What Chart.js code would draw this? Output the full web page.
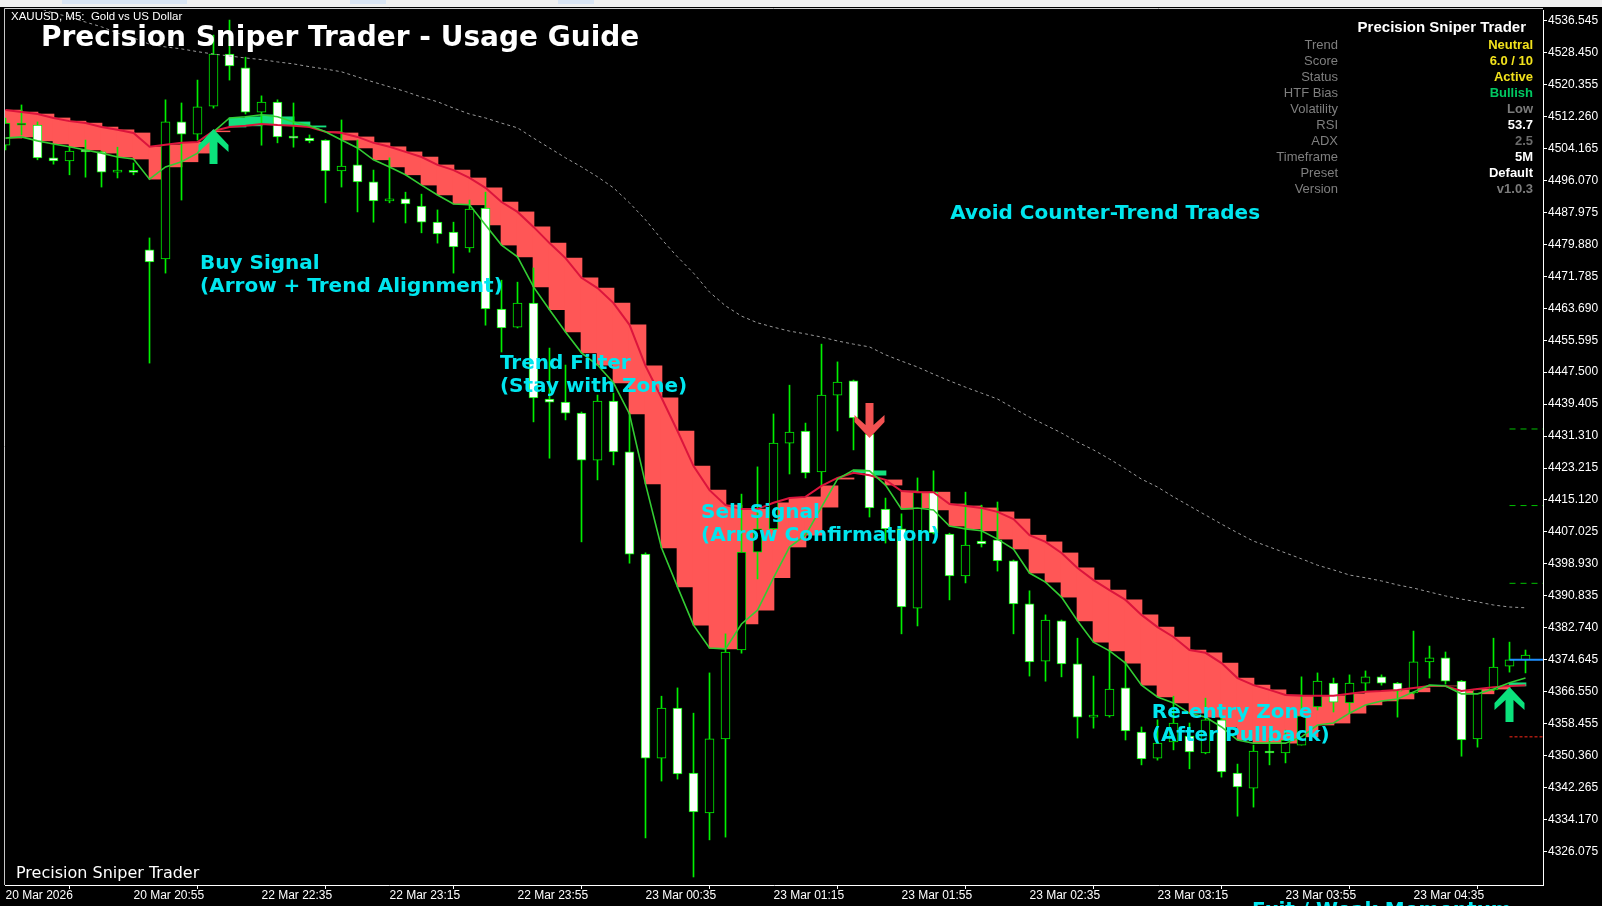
<!DOCTYPE html>
<html>
<head>
<meta charset="utf-8">
<script src="https://cdn.jsdelivr.net/npm/chart.js@4.4.1/dist/chart.umd.min.js"></script>
<style>
html, body { margin: 0; padding: 0; background: #000; }
#wrap { position: relative; width: 1602px; height: 906px; }
</style>
</head>
<body>
<div id="wrap"><canvas id="chart"></canvas></div>
<script>
// XAUUSD M5 candles
const opens = [4505.0, 4510.1, 4510.1, 4501.8, 4501.0, 4503.5, 4503.3, 4498.2, 4498.3, 4478.5,
  4476.2, 4510.9, 4507.8, 4514.9, 4528.1, 4524.6, 4513.4, 4515.9, 4507.1, 4506.8,
  4506.3, 4498.5, 4500.0, 4495.7, 4490.9, 4491.4, 4489.6, 4485.5, 4483.0, 4479.0,
  4489.1, 4463.5, 4458.9, 4465.0, 4440.7, 4439.9, 4437.1, 4425.2, 4440.2, 4427.3,
  4401.4, 4349.7, 4362.4, 4345.9, 4335.8, 4354.6, 4377.1, 4401.9, 4407.8, 4429.5,
  4432.6, 4422.2, 4441.7, 4445.3, 4431.8, 4412.8, 4407.8, 4387.7, 4417.1, 4406.5,
  4395.9, 4404.7, 4405.0, 4399.7, 4388.8, 4374.3, 4384.5, 4373.6, 4360.1, 4360.4,
  4367.5, 4356.3, 4349.7, 4353.8, 4355.3, 4351.0, 4359.4, 4345.9, 4342.1, 4351.5,
  4351.0, 4353.0, 4362.7, 4368.7, 4363.7, 4368.7, 4370.3, 4368.7, 4366.2, 4374.1,
  4375.1, 4369.2, 4354.6, 4367.0, 4373.0, 4374.6];
const highs = [4511.9, 4515.2, 4510.9, 4505.0, 4504.5, 4506.3, 4503.5, 4504.5, 4500.5, 4481.5,
  4516.5, 4515.7, 4521.5, 4532.9, 4536.7, 4527.3, 4517.5, 4516.5, 4515.7, 4507.6,
  4506.4, 4511.4, 4506.3, 4498.7, 4501.8, 4493.1, 4492.6, 4488.6, 4485.5, 4491.1,
  4493.1, 4470.8, 4470.3, 4473.9, 4453.6, 4449.3, 4437.4, 4441.7, 4442.2, 4437.1,
  4401.7, 4365.4, 4367.5, 4361.1, 4371.3, 4381.2, 4416.6, 4423.5, 4436.9, 4444.2,
  4434.6, 4454.6, 4450.1, 4445.5, 4434.1, 4415.6, 4411.6, 4420.7, 4422.5, 4406.7,
  4417.1, 4413.8, 4414.6, 4399.9, 4392.1, 4386.0, 4384.7, 4380.1, 4370.5, 4377.1,
  4374.1, 4357.6, 4359.4, 4365.4, 4358.6, 4364.9, 4359.9, 4348.2, 4353.0, 4354.8,
  4356.8, 4370.3, 4371.3, 4370.0, 4370.8, 4371.8, 4370.8, 4368.9, 4381.9, 4378.1,
  4376.6, 4369.4, 4367.4, 4380.1, 4379.1, 4377.1];
const lows = [4503.8, 4507.6, 4501.3, 4500.2, 4497.5, 4496.9, 4494.4, 4496.7, 4497.5, 4449.8,
  4472.6, 4491.1, 4506.3, 4514.4, 4521.5, 4512.9, 4505.0, 4505.6, 4504.5, 4505.6,
  4490.4, 4494.4, 4488.1, 4485.5, 4490.4, 4485.3, 4482.8, 4480.2, 4472.6, 4477.9,
  4459.4, 4452.6, 4458.7, 4434.9, 4425.7, 4435.4, 4404.5, 4420.2, 4424.0, 4399.1,
  4329.5, 4343.9, 4344.4, 4319.6, 4329.0, 4329.7, 4376.3, 4395.1, 4407.5, 4421.7,
  4420.7, 4418.9, 4432.6, 4427.8, 4410.8, 4404.2, 4381.2, 4383.2, 4406.5, 4389.8,
  4394.1, 4403.2, 4397.1, 4381.2, 4370.5, 4369.2, 4370.3, 4354.8, 4357.3, 4360.1,
  4354.3, 4348.0, 4349.2, 4351.8, 4347.0, 4350.8, 4344.9, 4335.0, 4337.3, 4348.0,
  4348.5, 4353.0, 4361.9, 4361.4, 4361.1, 4366.5, 4368.2, 4360.1, 4366.0, 4370.0,
  4368.5, 4350.2, 4352.5, 4366.8, 4371.5, 4371.3];
const closes = [4510.6, 4510.4, 4501.8, 4501.0, 4503.5, 4503.3, 4498.2, 4498.3, 4498.1, 4475.4,
  4510.9, 4507.8, 4514.7, 4528.1, 4525.1, 4513.4, 4515.9, 4507.1, 4506.8, 4506.1,
  4498.5, 4499.7, 4495.7, 4490.9, 4491.4, 4490.1, 4485.5, 4482.5, 4479.2, 4488.8,
  4463.5, 4458.7, 4465.0, 4441.0, 4439.9, 4437.1, 4425.2, 4440.2, 4427.3, 4401.4,
  4349.7, 4362.4, 4345.7, 4336.1, 4354.6, 4376.6, 4401.9, 4407.8, 4429.5, 4432.3,
  4422.0, 4441.7, 4445.0, 4435.9, 4413.1, 4407.8, 4388.0, 4417.1, 4406.8, 4395.9,
  4403.7, 4404.0, 4399.7, 4388.8, 4374.1, 4384.7, 4373.6, 4360.1, 4360.4, 4367.2,
  4356.6, 4349.5, 4353.5, 4358.6, 4351.3, 4359.4, 4346.2, 4342.4, 4351.5, 4351.0,
  4354.3, 4360.4, 4369.2, 4363.9, 4368.7, 4370.3, 4368.7, 4366.7, 4374.1, 4375.1,
  4369.2, 4354.3, 4367.2, 4372.8, 4374.6, 4375.8];

// indicator lines
const zoneLine = [4513.9, 4513.4, 4512.9, 4511.9, 4511.1, 4510.6, 4509.6, 4508.9, 4508.1, 4504.6,
  4505.1, 4505.6, 4505.8, 4508.6, 4509.6, 4509.9, 4510.4, 4510.1, 4509.9, 4509.6,
  4508.4, 4508.1, 4507.1, 4505.6, 4504.6, 4503.3, 4502.0, 4500.0, 4498.7, 4496.7,
  4494.2, 4490.6, 4488.1, 4484.3, 4480.2, 4476.4, 4471.4, 4468.8, 4465.0, 4459.5,
  4449.1, 4441.0, 4432.6, 4423.7, 4417.6, 4413.8, 4412.8, 4412.8, 4414.4, 4415.6,
  4415.9, 4418.7, 4420.7, 4422.0, 4421.4, 4420.2, 4417.4, 4417.1, 4417.1, 4414.1,
  4413.6, 4413.1, 4412.1, 4410.3, 4406.2, 4404.5, 4401.7, 4397.9, 4394.8, 4392.3,
  4389.8, 4386.0, 4382.9, 4380.4, 4377.1, 4376.4, 4373.8, 4370.0, 4368.2, 4367.0,
  4365.7, 4365.5, 4365.5, 4365.5, 4366.0, 4366.5, 4366.7, 4367.0, 4367.5, 4368.0,
  4368.0, 4366.7, 4367.2, 4367.7, 4368.0, 4368.2];
const fastLine = [4506.8, 4507.1, 4506.1, 4505.3, 4504.6, 4503.8, 4503.0, 4502.0, 4501.5, 4496.4,
  4499.5, 4500.8, 4503.0, 4508.4, 4511.9, 4512.2, 4512.7, 4512.2, 4510.9, 4509.9,
  4508.4, 4506.3, 4504.3, 4501.3, 4499.5, 4497.5, 4494.9, 4492.4, 4490.1, 4489.9,
  4484.8, 4479.7, 4476.7, 4469.1, 4463.3, 4457.7, 4452.4, 4449.3, 4444.8, 4436.9,
  4419.2, 4403.0, 4393.1, 4383.4, 4377.6, 4377.4, 4383.7, 4387.2, 4395.4, 4403.2,
  4406.2, 4413.3, 4420.4, 4422.7, 4422.5, 4418.9, 4412.8, 4413.1, 4412.6, 4408.5,
  4407.8, 4407.3, 4405.2, 4402.7, 4396.6, 4394.3, 4390.5, 4384.5, 4379.1, 4376.9,
  4373.8, 4368.2, 4365.2, 4363.7, 4361.1, 4360.1, 4357.6, 4354.3, 4353.5, 4353.5,
  4353.5, 4355.1, 4358.1, 4358.6, 4361.1, 4363.2, 4364.2, 4364.7, 4366.5, 4368.2,
  4368.0, 4366.0, 4366.0, 4367.2, 4368.8, 4370.0];
const slowLine = [null, null, 4539.8, 4538.5, 4537.5, 4536.2, 4535.0, 4533.4, 4532.2, 4530.6,
  4529.9, 4529.4, 4528.7, 4528.1, 4527.6, 4527.1, 4526.7, 4526.1, 4525.6, 4524.9,
  4524.3, 4523.6, 4522.3, 4521.0, 4519.8, 4518.6, 4517.2, 4516.0, 4514.4, 4512.9,
  4511.9, 4510.6, 4509.4, 4506.8, 4504.3, 4501.8, 4499.5, 4497.0, 4494.2, 4490.4,
  4486.1, 4481.2, 4476.7, 4472.6, 4467.8, 4464.3, 4461.7, 4460.0, 4458.9, 4457.9,
  4457.2, 4456.4, 4455.4, 4454.6, 4453.9, 4451.9, 4450.3, 4448.8, 4447.0, 4445.3,
  4443.7, 4442.2, 4440.7, 4438.4, 4436.1, 4434.1, 4432.1, 4429.8, 4427.8, 4425.5,
  4423.0, 4420.4, 4418.4, 4415.9, 4413.6, 4411.3, 4409.0, 4406.8, 4404.7, 4403.2,
  4401.7, 4400.2, 4398.6, 4397.4, 4396.1, 4395.4, 4394.6, 4393.6, 4392.8, 4391.8,
  4390.8, 4390.0, 4389.3, 4388.5, 4388.0, 4387.8];

// signals: bar index, arrow tip price, direction
const signalIndex = [13, 54, 94];
const signalPrice = [4509.1, 4430.8, 4367.7];
const signalType = ['buy', 'sell', 'buy'];

// trade levels at the right edge
const tpLevels = [4433.1, 4413.7, 4394.0];
const slLevel = 4355.1;
const bidPrice = 4374.645;
const levelStart = 94.0;

// axis ticks
const priceTicks = [4536.545, 4528.450, 4520.355, 4512.260, 4504.165, 4496.070, 4487.975,
  4479.880, 4471.785, 4463.690, 4455.595, 4447.500, 4439.405, 4431.310, 4423.215,
  4415.120, 4407.025, 4398.930, 4390.835, 4382.740, 4374.645, 4366.550, 4358.455,
  4350.360, 4342.265, 4334.170, 4326.075];
const dateTickIndex = [0, 8, 16, 24, 32, 40, 48, 56, 64, 72, 80, 88];
const dateTickLabels = ['20 Mar 2026', '20 Mar 20:55', '22 Mar 22:35', '22 Mar 23:15', '22 Mar 23:55',
  '23 Mar 00:35', '23 Mar 01:15', '23 Mar 01:55', '23 Mar 02:35', '23 Mar 03:15',
  '23 Mar 03:55', '23 Mar 04:35'];

// chart notes
const noteLines = [['Buy Signal', '(Arrow + Trend Alignment)'], ['Trend Filter', '(Stay with Zone)'],
  ['Sell Signal', '(Arrow Confirmation)'], ['Avoid Counter-Trend Trades'],
  ['Re-entry Zone', '(After Pullback)'], ['Exit / Weak Momentum']];
const noteIndex = [12.16, 30.9, 43.47, 59.04, 71.64, 77.9];
const notePrice = [4474.9, 4449.6, 4411.8, 4487.7, 4361.3, 4311.0];

// dashboard panel
const panelLabels = ['Trend', 'Score', 'Status', 'HTF Bias', 'Volatility', 'RSI', 'ADX', 'Timeframe', 'Preset', 'Version'];
const panelValues = ['Neutral', '6.0 / 10', 'Active', 'Bullish', 'Low', '53.7', '2.5', '5M', 'Default', 'v1.0.3'];
const panelColors = ['#f2e21c', '#f2e21c', '#f2e21c', '#00c862', '#7c7c7c', '#ffffff', '#6c6c6c', '#ffffff', '#ffffff', '#7c7c7c'];

const CANDLE = '#00f000';
const idx = opens.map((_, i) => i);
const wickData = idx.map(i => ({x: i, y: [lows[i], highs[i]]}));
const bodyData = idx.map(i => ({x: i, y: [opens[i], closes[i]]}));
const bodyFill = idx.map(i => closes[i] >= opens[i] ? '#000000' : '#ffffff');
// each cloud block runs from one bar to the next, so the last bar has none
const cloudIdx = idx.slice(0, -1);
const cloudData = cloudIdx.map(i => ({x: i + 0.5, y: [fastLine[i], zoneLine[i]]}));
const cloudFill = cloudIdx.map(i => fastLine[i] > zoneLine[i] ? '#14e07e' : '#ff5656');
const lineOf = arr => idx.map(i => ({x: i, y: arr[i]}));
const flat = p => [{x: levelStart, y: p}, {x: 96.1, y: p}];

const levelSets = tpLevels.map(p => ({
  type: 'line', data: flat(p), borderColor: '#00c000', borderWidth: 1,
  borderDash: [6, 5], pointRadius: 0
}));

const decor = {
  id: 'decor',
  beforeDraw(chart) {
    const c = chart.ctx;
    c.save();
    c.fillStyle = '#000';
    c.fillRect(0, 0, chart.width, chart.height);
    c.fillStyle = '#f0f0f0';
    c.fillRect(0, 0, chart.width, 7);
    c.fillStyle = '#d9e5f4';
    [[62, 125], [350, 36], [558, 36]].forEach(r => c.fillRect(r[0], 0, r[1], 4));
    c.restore();
  },
  afterDatasetsDraw(chart) {
    const c = chart.ctx, xs = chart.scales.x, ys = chart.scales.y;
    const shape = [[0, 0], [15, 16], [15, 23], [4, 13], [4, 35], [-4, 35], [-4, 13], [-15, 23], [-15, 16]];
    c.save();
    signalIndex.forEach((si, k) => {
      const x = xs.getPixelForValue(si), y = ys.getPixelForValue(signalPrice[k]);
      const d = signalType[k] === 'buy' ? 1 : -1;
      c.fillStyle = d > 0 ? '#0be27c' : '#f25252';
      c.beginPath();
      shape.forEach((p, j) => j ? c.lineTo(x + p[0], y + d * p[1]) : c.moveTo(x + p[0], y + d * p[1]));
      c.closePath();
      c.fill();
    });
    c.restore();
  },
  afterDraw(chart) {
    const c = chart.ctx, xs = chart.scales.x, ys = chart.scales.y, a = chart.chartArea;
    c.save();
    // frame
    c.strokeStyle = '#c8c8c8';
    c.lineWidth = 1;
    c.beginPath();
    c.moveTo(4.5, a.bottom); c.lineTo(4.5, 8.5); c.lineTo(a.right, 8.5);
    c.stroke();

    // notes
    c.fillStyle = '#00e6ef';
    c.font = 'bold 20px "DejaVu Sans"';
    c.textAlign = 'left';
    c.textBaseline = 'middle';
    noteLines.forEach((lines, k) => {
      const x = xs.getPixelForValue(noteIndex[k]), y = ys.getPixelForValue(notePrice[k]);
      lines.forEach((t, j) => c.fillText(t, x, y + j * 23));
    });

    // headings
    c.fillStyle = '#ffffff';
    c.font = 'bold 28px "DejaVu Sans"';
    c.fillText('Precision Sniper Trader - Usage Guide', 41, 39);
    c.font = '11.5px "Liberation Sans"';
    c.fillText('XAUUSD, M5:  Gold vs US Dollar', 11, 17);
    c.font = '16px "DejaVu Sans"';
    c.fillText('Precision Sniper Trader', 16, 874);

    // dashboard
    c.textAlign = 'right';
    c.font = 'bold 15px "Liberation Sans"';
    c.fillText('Precision Sniper Trader', 1526, 28);
    panelLabels.forEach((t, k) => {
      const y = 45 + k * 16;
      c.font = '13px "Liberation Sans"';
      c.fillStyle = '#7f7f7f';
      c.fillText(t, 1338, y);
      c.font = 'bold 13px "Liberation Sans"';
      c.fillStyle = panelColors[k];
      c.fillText(panelValues[k], 1533, y);
    });
    c.restore();
  }
};

new Chart(document.getElementById('chart'), {
  type: 'bar',
  data: {
    datasets: [
      {type: 'line', data: flat(bidPrice), borderColor: '#1e8fff', borderWidth: 2, pointRadius: 0},
      {type: 'line', data: flat(slLevel), borderColor: '#ff2a1a', borderWidth: 1, borderDash: [3, 2], pointRadius: 0},
      ...levelSets,
      {type: 'line', data: lineOf(fastLine), borderColor: '#33cc33', borderWidth: 1.6, pointRadius: 0, tension: 0},
      {type: 'line', data: lineOf(zoneLine), borderColor: '#dc143c', borderWidth: 2, pointRadius: 0, tension: 0},
      {type: 'line', data: lineOf(slowLine), borderColor: '#9a9a9a', borderWidth: 1, borderDash: [3, 3], pointRadius: 0, tension: 0, spanGaps: false},
      {data: bodyData, backgroundColor: bodyFill, borderColor: CANDLE, borderWidth: 1, borderSkipped: false,
        barThickness: 9, minBarLength: 2, grouped: false},
      {data: wickData, backgroundColor: CANDLE, borderWidth: 0, barThickness: 1, minBarLength: 1, grouped: false},
      {data: cloudData, backgroundColor: cloudFill, borderWidth: 0, barThickness: 17, grouped: false}
    ]
  },
  options: {
    responsive: true,
    maintainAspectRatio: false,
    animation: false,
    layout: {padding: {left: 5, top: 10, right: 0, bottom: 0}},
    plugins: {legend: {display: false}, tooltip: {enabled: false}},
    scales: {
      x: {
        type: 'linear', min: -0.03125, max: 96.09375, offset: false,
        afterBuildTicks: s => { s.ticks = dateTickIndex.map(v => ({value: v})); },
        afterFit: s => { s.height = 21; },
        grid: {drawOnChartArea: false, drawTicks: true, tickLength: 4, color: '#ffffff'},
        border: {display: true, color: '#ffffff'},
        ticks: {
          color: '#ffffff', font: {family: 'Liberation Sans', size: 12}, align: 'start',
          maxRotation: 0, autoSkip: false, padding: -1,
          callback: v => dateTickLabels[dateTickIndex.indexOf(v)]
        }
      },
      y: {
        type: 'linear', position: 'right', min: 4317.566, max: 4539.256,
        afterBuildTicks: s => { s.ticks = priceTicks.map(v => ({value: v})); },
        afterFit: s => { s.width = 59; },
        grid: {drawOnChartArea: false, drawTicks: true, tickLength: 4, color: '#ffffff'},
        border: {display: true, color: '#ffffff'},
        ticks: {
          color: '#ffffff', font: {family: 'Liberation Sans', size: 12}, padding: 1,
          autoSkip: false, callback: v => v.toFixed(3)
        }
      }
    }
  },
  plugins: [decor]
});
</script>
</body>
</html>
